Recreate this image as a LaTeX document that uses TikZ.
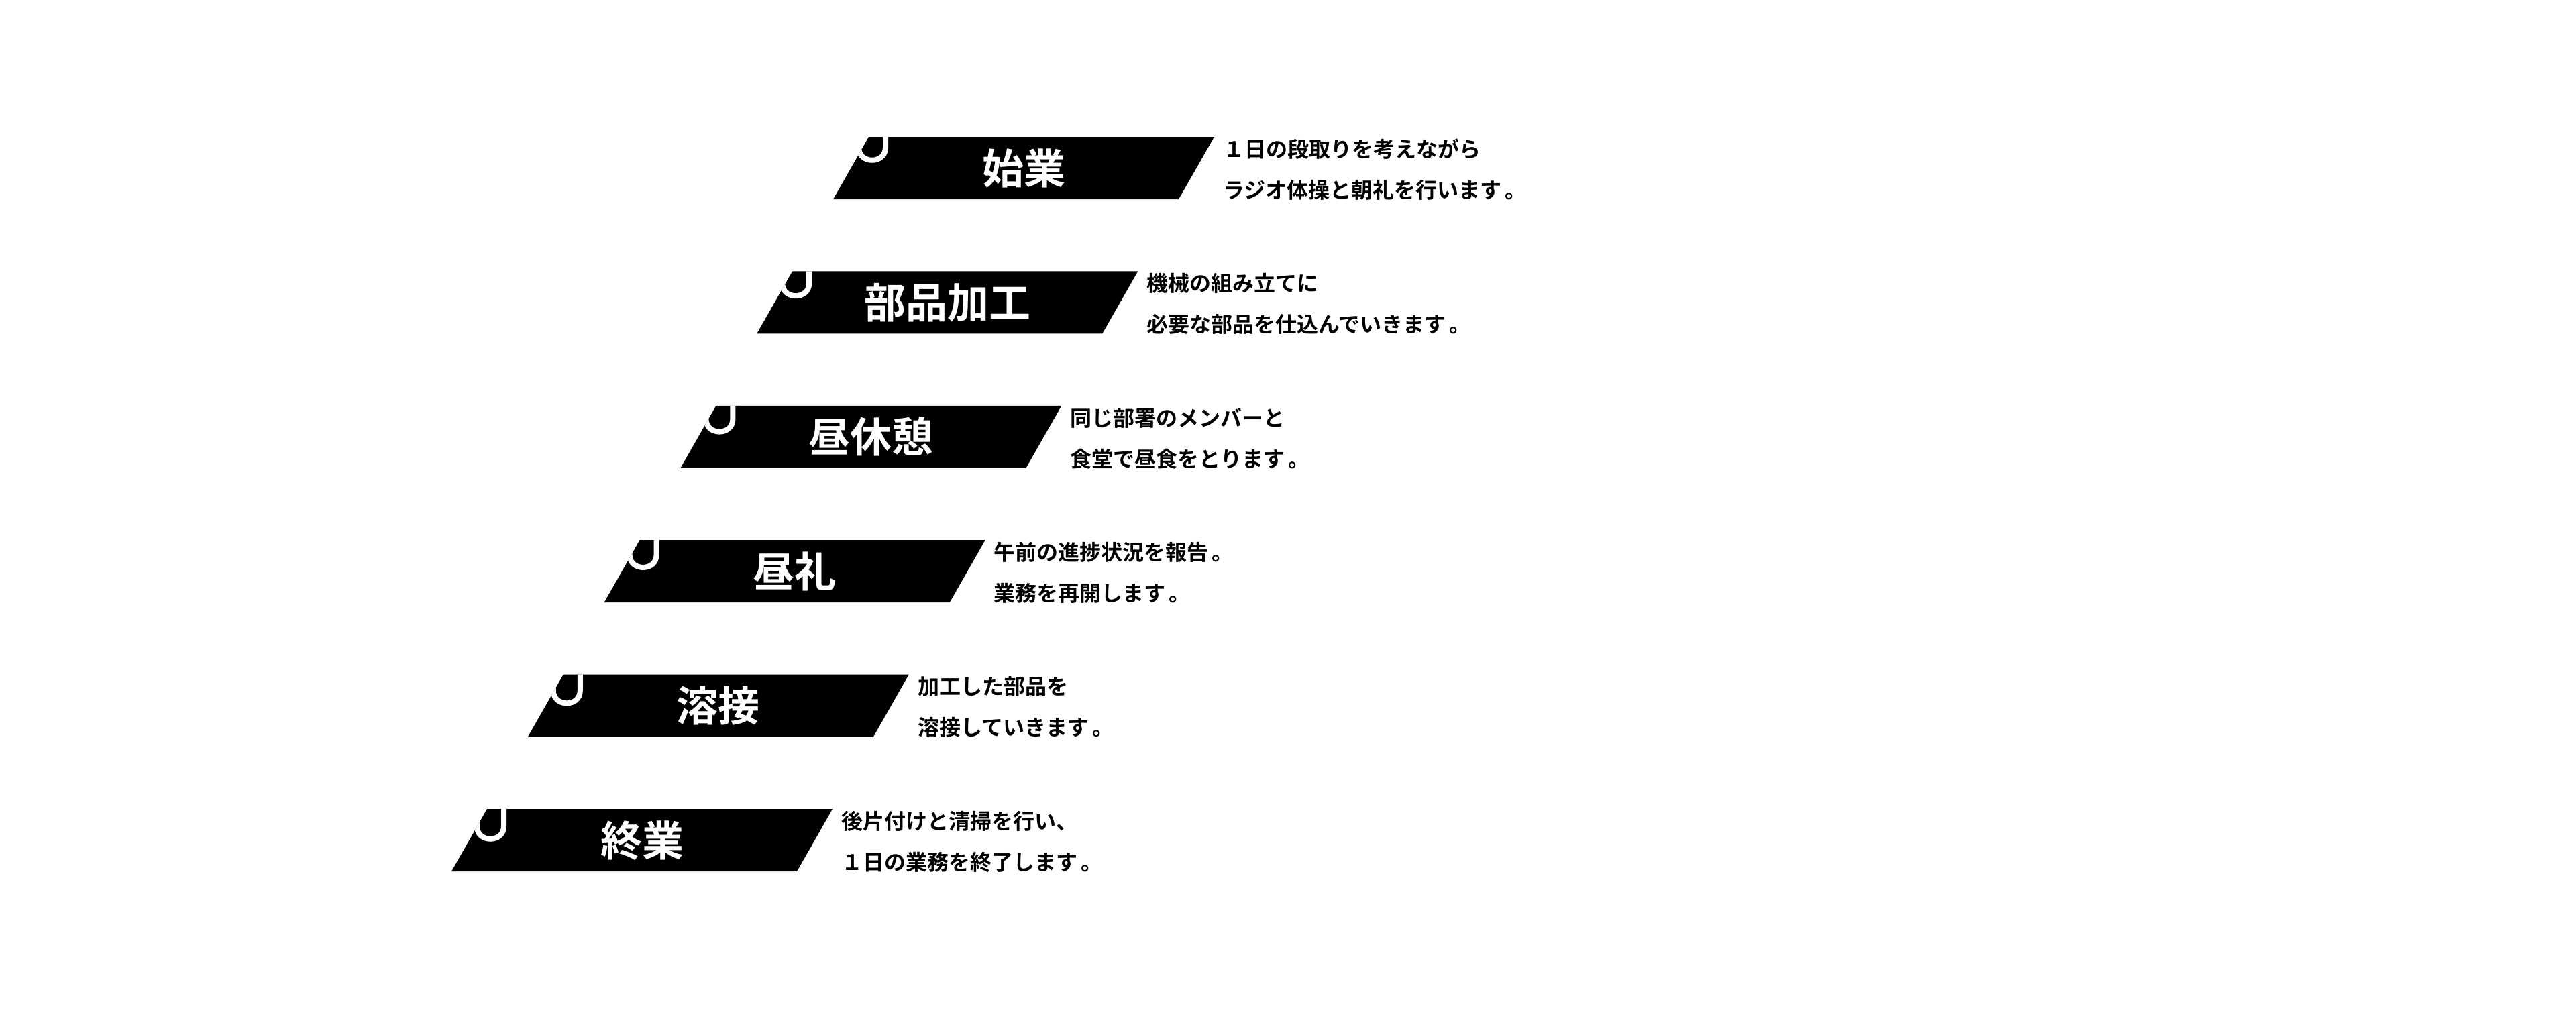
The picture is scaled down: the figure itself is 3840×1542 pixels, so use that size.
\documentclass[tikz,border=0pt]{standalone}
\usepackage{fontspec}
\setmainfont{Noto Sans CJK JP}[BoldFont={Noto Sans CJK JP Bold}]
\newcommand\kuten{\kern5pt 。}
\begin{document}
\begin{tikzpicture}[x=1pt,y=-1pt,
  band/.style={fill=black},
  lbl/.style={text=white,font=\bfseries\fontsize{62}{62}\selectfont,inner sep=0pt,text height=54.5pt,text depth=7.5pt},
  desc/.style={anchor=west,text=black,font=\bfseries\fontsize{32}{32}\selectfont,inner sep=0pt,text height=28.2pt,text depth=3.8pt},
  hook/.style={draw=white,line width=8pt}]
\useasboundingbox (0,0) rectangle (3840,1542);
\foreach \i/\lab/\la/\lb in {
  0/始業/１日の段取りを考えながら/ラジオ体操と朝礼を行います\kuten,
  1/部品加工/機械の組み立てに/必要な部品を仕込んでいきます\kuten,
  2/昼休憩/同じ部署のメンバーと/食堂で昼食をとります\kuten,
  3/昼礼/午前の進捗状況を報告\kuten/業務を再開します\kuten,
  4/溶接/加工した部品を/溶接していきます\kuten,
  5/終業/後片付けと清掃を行い、/１日の業務を終了します\kuten}{
  \pgfmathsetmacro\T{204+200.4*\i}
  \pgfmathsetmacro\B{\T+93}
  \pgfmathsetmacro\BL{1242-113.8*\i}
  \pgfmathsetmacro\TL{\BL+53}
  \pgfmathsetmacro\D{16+2*\i}
  \fill[band] (\TL,\T) -- (\TL+515,\T) -- (\BL+515,\B) -- (\BL,\B) -- cycle;
  \begin{scope}
    \clip (\TL,\T) -- (\TL+515,\T) -- (\BL+515,\B) -- (\BL,\B) -- cycle;
    \path[hook] (\TL+25,\T-10) -- (\TL+25,\T+\D)
      .. controls (\TL+25,\T+\D+25) and (\TL-15,\T+\D+25) .. (\TL-15,\T+\D)
      -- (\TL-15,\T-10);
  \end{scope}
  \node[lbl] (b\i) at (\BL+284,\T+46.5) {\lab};
  \node[desc] (p\i) at (\TL+528,\T+18) {\la};
  \node[desc] (q\i) at (\TL+528,\T+79) {\lb};
}
\end{tikzpicture}
\end{document}
